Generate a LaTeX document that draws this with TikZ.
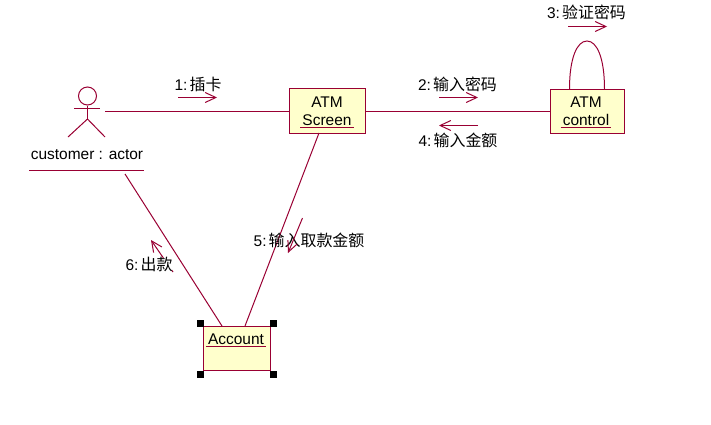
\documentclass[tikz,border=0pt]{standalone}
\usepackage{fontspec}
\setmainfont{Liberation Sans}
\newfontfamily\cjk[Scale=1.03]{Noto Sans CJK SC}
\usetikzlibrary{arrows.meta,positioning}
\definecolor{umlline}{HTML}{990033}
\definecolor{umlfill}{HTML}{FFFFCC}
\newcommand{\msgsp}{\hspace{0.14em}}

\begin{document}
\begin{tikzpicture}[
  x=0.75pt, y=-0.75pt,
  box/.style={draw=umlline, fill=umlfill, line width=0.75pt, inner sep=0pt},
  objname/.style={inner xsep=1.5pt, inner ysep=1pt, font=\fontsize{11.6}{14}\selectfont},
  msg/.style={font=\fontsize{11.6}{14}\selectfont, inner sep=0pt},
  link/.style={draw=umlline, line width=0.75pt},
  arr/.style={draw=umlline, line width=0.75pt, -{Straight Barb[length=8pt,width=7.5pt]}},
  handle/.style={fill=black, inner sep=0pt, minimum size=5.25pt}
]
\useasboundingbox (0,0) rectangle (711,425);
% objects
\node[box, minimum width=57pt, minimum height=33.75pt] (screen) at (327.5,110.5) {};
\node[box, minimum width=55.5pt, minimum height=33pt] (control) at (587.5,111) {};
\node[box, minimum width=50.25pt, minimum height=33pt] (account) at (236.5,348) {};
\node[objname] (atma) at (327,102) {ATM};
\node[objname, below=3.2pt of atma] (screenname) {Screen};
\node[objname] (atmb) at (586,102) {ATM};
\node[objname, below=3.2pt of atmb] (controlname) {control};
\node[objname, inner xsep=1.5pt] (accountname) at (236,339) {Account};
\node[objname] (customer) at (87,154.5) {customer : actor};
\draw[link] (screenname.south west)--(screenname.south east);
\draw[link] (controlname.south west)--(controlname.south east);
\draw[link] (accountname.south west)--(accountname.south east);
\coordinate (custl) at (29,170.5);
\coordinate (custr) at (144,170.5);
\draw[link] (custl)--(custr);
% actor
\node[draw=umlline, line width=0.75pt, circle, minimum size=13.5pt, inner sep=0pt] (head) at (87.5,96) {};
\coordinate (hip) at (87.5,119);
\coordinate (arml) at (74,108.5);
\coordinate (armr) at (100,108.5);
\coordinate (legl) at (68,137);
\coordinate (legr) at (105,137);
\draw[link] (head.south)--(hip);
\draw[link] (arml)--(armr);
\draw[link] (legl)--(hip)--(legr);
% links
\coordinate (hand) at (105,111.5);
\coordinate (custb) at (125,174);
\coordinate (screenb) at (319,133);
\coordinate (accl) at (222,326);
\coordinate (accr) at (245,326);
\coordinate (loopl) at (569.5,89);
\coordinate (loopr) at (604.5,89);
\draw[link] (hand)--(screen.west |- hand);
\draw[link] (screen.east |- hand)--(control.west |- hand);
\draw[link] (screenb)--(accr);
\draw[link] (custb)--(accl);
\draw[link] (loopl) .. controls (569.5,58) and (577,41) .. (587,41) .. controls (597,41) and (604.5,58) .. (loopr);
% messages
\coordinate (onea) at (178,97.5);
\coordinate (oneb) at (217,97.5);
\coordinate (twoa) at (439,97.5);
\coordinate (twob) at (478,97.5);
\coordinate (threea) at (568,26.5);
\coordinate (threeb) at (607,26.5);
\coordinate (foura) at (478,125.5);
\coordinate (fourb) at (439,125.5);
\coordinate (fivea) at (302.5,218);
\coordinate (fiveb) at (288,253);
\coordinate (sixa) at (173,272);
\coordinate (sixb) at (151,240);
\draw[arr] (onea)--(oneb);
\draw[arr] (twoa)--(twob);
\draw[arr] (threea)--(threeb);
\draw[arr] (foura)--(fourb);
\draw[arr] (sixa)--(sixb);
\node[msg] (m1) at (198,84) {1:\msgsp{\cjk 插卡}};
\node[msg] (m2) at (457.5,84) {2:\msgsp{\cjk 输入密码}};
\node[msg] (m3) at (586.5,12) {3:\msgsp{\cjk 验证密码}};
\node[msg] (m4) at (458,140) {4:\msgsp{\cjk 输入金额}};
\node[msg] (m5) at (309,240) {5:\msgsp{\cjk 输入取款金额}};
\node[msg, fill=white, inner ysep=-1pt] (m6) at (149,264) {6:\msgsp{\cjk 出款}};
\draw[arr] (fivea)--(fiveb);
% selection handles
\foreach \px/\py/\tag in {200/323/nw, 273/323/ne, 200/374/sw, 273/374/se}
  \node[handle] (h\tag) at (\px,\py) {};
\end{tikzpicture}
\end{document}
